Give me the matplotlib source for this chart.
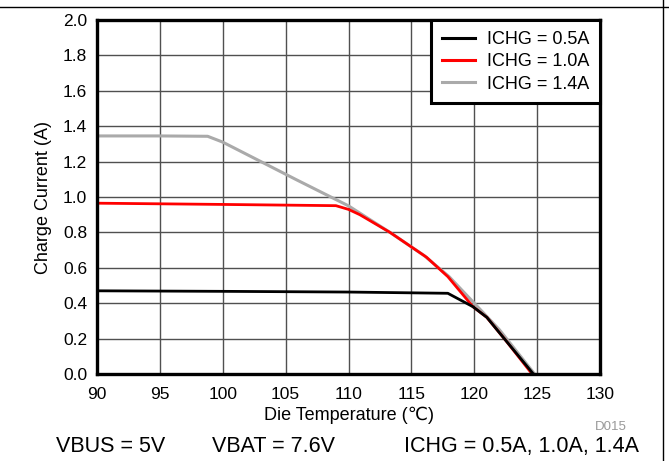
import matplotlib.pyplot as plt
from matplotlib.lines import Line2D

plt.rcParams['font.family'] = ['Liberation Sans', 'DejaVu Sans']

# die temperature (degC) vs charge current (A) for three ICHG settings
temp_05 = [90, 100, 110, 117.9, 119.9, 121.0, 122.5, 124.7]
curr_05 = [0.47, 0.467, 0.463, 0.456, 0.38, 0.32, 0.19, 0.0]

temp_10 = [90, 100, 109.0, 110.0, 110.9, 113.3, 116.2, 117.9, 119.9, 121.0, 122.5, 124.6]
curr_10 = [0.965, 0.958, 0.951, 0.93, 0.90, 0.80, 0.66, 0.55, 0.38, 0.32, 0.19, 0.0]

temp_14 = [90, 95, 98.8, 100, 105.9, 110.0, 113.3, 116.0, 118.0, 120.0, 122.0, 124.8]
curr_14 = [1.345, 1.345, 1.343, 1.31, 1.096, 0.95, 0.80, 0.67, 0.55, 0.40, 0.25, 0.0]

x_ticks = [90, 95, 100, 105, 110, 115, 120, 125, 130]
y_ticks = [0.0, 0.2, 0.4, 0.6, 0.8, 1.0, 1.2, 1.4, 1.6, 1.8, 2.0]
y_tick_labels = [f"{v:.1f}" for v in y_ticks]
series_labels = ['ICHG = 0.5A', 'ICHG = 1.0A', 'ICHG = 1.4A']
series_colors = ['black', '#ff0000', '#aaaaaa']

W, H = 669, 461
fig = plt.figure(figsize=(W / 100, H / 100), dpi=100)
ax = fig.add_axes([97 / W, 1 - 374 / H, (600 - 97) / W, (374 - 20) / H])

ax.plot(temp_05, curr_05, color=series_colors[0], lw=2.0, zorder=3)
ax.plot(temp_14, curr_14, color=series_colors[2], lw=2.2, zorder=2)
ax.plot(temp_10, curr_10, color=series_colors[1], lw=2.0, zorder=2.5)

ax.set_xlim(90, 130)
ax.set_ylim(0, 2.0)
ax.set_xticks(x_ticks)
ax.set_yticks(y_ticks)
ax.set_yticklabels(y_tick_labels)
ax.grid(True, color='#505050', lw=1.0)
ax.set_axisbelow(True)
ax.tick_params(length=0, labelsize=12.5)
ax.tick_params(axis='x', pad=9)
ax.tick_params(axis='y', pad=7)
for s in ax.spines.values():
    s.set_linewidth(2.4)
    s.set_color('black')

ax.set_xlabel('Die Temperature (\u2103)', fontsize=13, labelpad=4)
ax.set_ylabel('Charge Current (A)', fontsize=13, labelpad=8)

handles = [Line2D([], [], color=c, lw=2.2) for c in series_colors]
leg = ax.legend(handles, series_labels, loc='upper right', fontsize=13,
                fancybox=False, framealpha=1, edgecolor='black',
                borderaxespad=0, handlelength=1.85, labelspacing=0.3,
                borderpad=0.6, handletextpad=0.65)
leg.get_frame().set_linewidth(2.2)

fig.text(627 / W, 1 - 427 / H, 'D015', fontsize=9.5, color='#999999',
         ha='right', va='center')
fig.text(56 / W, 1 - 446 / H, 'VBUS = 5V', fontsize=15.5, va='center')
fig.text(212 / W, 1 - 446 / H, 'VBAT = 7.6V', fontsize=15.5, va='center')
fig.text(404 / W, 1 - 446 / H, 'ICHG = 0.5A, 1.0A, 1.4A', fontsize=15.5, va='center')

# outer frame: top rule and right rule
fig.add_artist(Line2D([0, 1], [1 - 7 / H] * 2, color='black', lw=1.0,
                      transform=fig.transFigure))
fig.add_artist(Line2D([663 / W] * 2, [0, 1], color='black', lw=1.0,
                      transform=fig.transFigure))

fig.savefig('out.png', dpi=100)
